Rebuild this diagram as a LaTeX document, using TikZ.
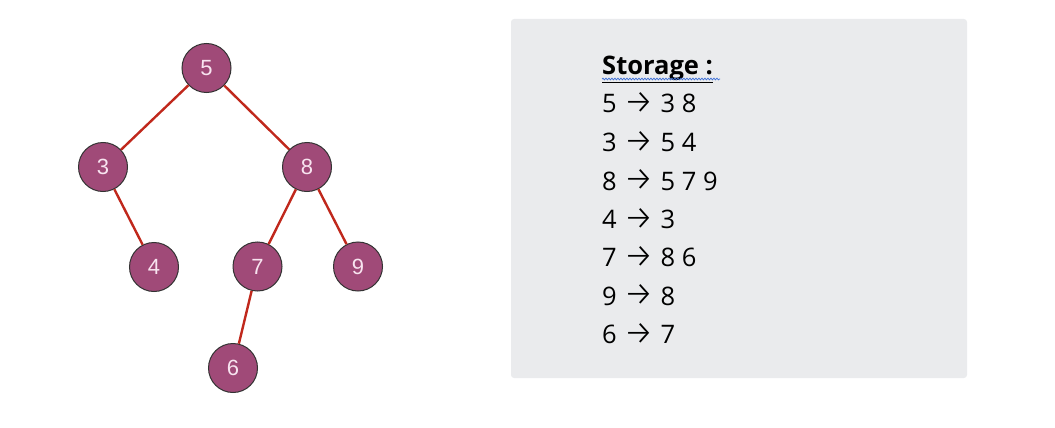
\documentclass[tikz,border=0pt]{standalone}
\usepackage{fontspec}
\setmainfont{Open Sans}
\newfontfamily\nodefont{Liberation Sans}
\newfontfamily\arrfont{Fira Sans Light}
\usetikzlibrary{decorations.pathmorphing}
\definecolor{nodefill}{HTML}{A04A78}
\definecolor{nodetext}{HTML}{F8E4F0}
\definecolor{edgecol}{HTML}{C0281C}
\definecolor{boxgrey}{HTML}{EAEBED}
\definecolor{squig}{HTML}{3C6FD8}
\begin{document}
\begin{tikzpicture}[x=1pt,y=-1pt,
  tnode/.style={circle,draw=black!80,line width=1pt,fill=nodefill,minimum size=49pt,inner sep=0pt,
    font=\nodefont\fontsize{22}{22}\selectfont,text=nodetext},
  tedge/.style={draw=edgecol,line width=2.4pt},
  row/.style={anchor=base west,inner sep=0pt,font=\fontsize{25.5}{25.5}\selectfont}]
\useasboundingbox (0,0) rectangle (1055,428);
\fill[boxgrey,rounded corners=3pt] (511,19) rectangle (967,378);
\node[tnode] (n5) at (206.5,68) {5};
\node[tnode] (n3) at (103,167) {3};
\node[tnode] (n8) at (307,167) {8};
\node[tnode] (n4) at (154,267) {4};
\node[tnode] (n7) at (257.5,266.5) {7};
\node[tnode] (n9) at (358,266.5) {9};
\node[tnode] (n6) at (233,368) {6};
\draw[tedge] (n5) -- (n3);
\draw[tedge] (n5) -- (n8);
\draw[tedge] (n3) -- (n4);
\draw[tedge] (n8) -- (n7);
\draw[tedge] (n8) -- (n9);
\draw[tedge] (n7) -- (n6);
\newcommand{\arr}{{\arrfont\fontsize{34}{25}\selectfont\raisebox{-0.8pt}{→}}}
\node[row,font=\fontsize{25.5}{25.5}\bfseries\selectfont] (st) at (602,74.5) {\underline{Storage :}};
\coordinate (sqa) at (602,79);
\coordinate (sqb) at (720,79);
\draw[squig,line width=0.7pt,decorate,decoration={snake,amplitude=0.9pt,segment length=3pt}] (sqa) -- (sqb);
\node[row] (r1) at (602,112.5) {5 \arr{} 3 8};
\node[row] (r2) at (602,151.5) {3 \arr{} 5 4};
\node[row] (r3) at (602,190) {8 \arr{} 5 7 9};
\node[row] (r4) at (602,228.5) {4 \arr{} 3};
\node[row] (r5) at (602,266.5) {7 \arr{} 8 6};
\node[row] (r6) at (602,305) {9 \arr{} 8};
\node[row] (r7) at (602,343.5) {6 \arr{} 7};
\end{tikzpicture}
\end{document}
